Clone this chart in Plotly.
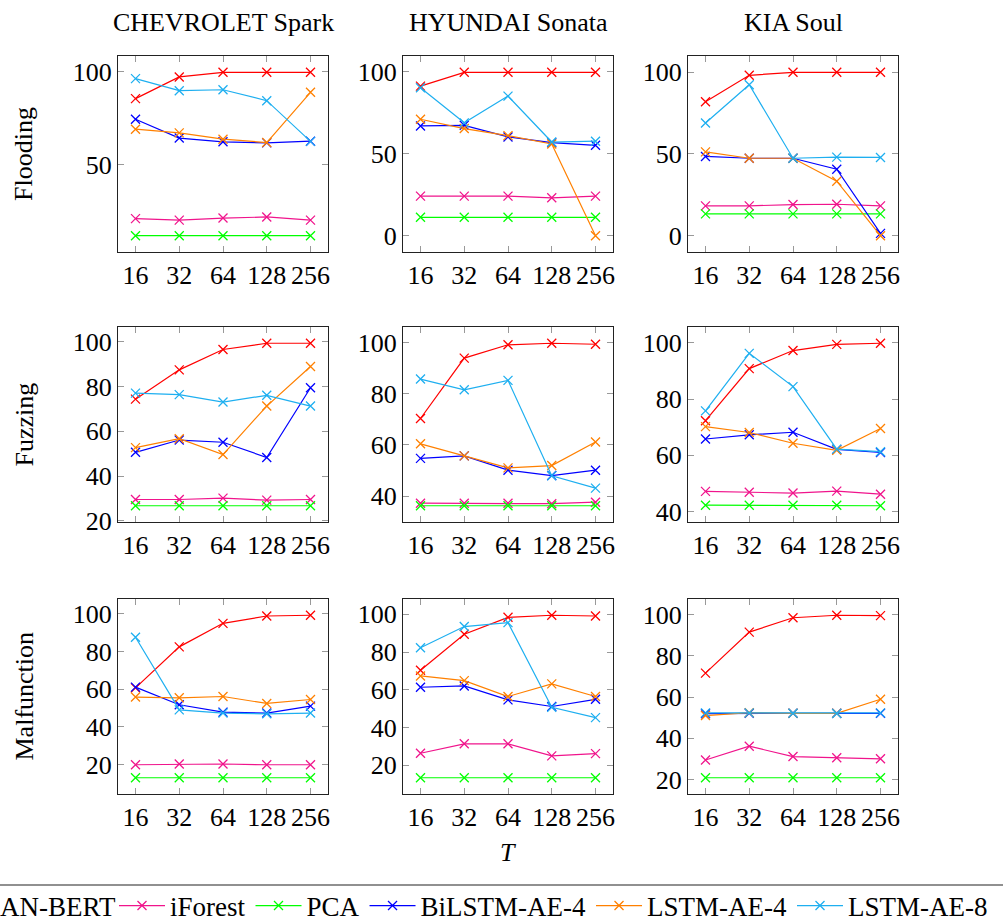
import math
import plotly.graph_objects as go

# ---------------- data ----------------
T = [16, 32, 64, 128, 256]
T_labels = ["16", "32", "64", "128", "256"]
vehicles = ["CHEVROLET Spark", "HYUNDAI Sonata", "KIA Soul"]
attacks = ["Flooding", "Fuzzing", "Malfunction"]
models = ["CAN-BERT", "iForest", "PCA", "BiLSTM-AE-4", "LSTM-AE-4", "LSTM-AE-8"]
colors = ["#FF0000", "#F0148C", "#00FF00", "#0000FF", "#FF8000", "#1EAFF0"]

chevrolet_flooding = {
    "CAN-BERT": [85.6, 97.3, 99.8, 99.8, 99.8],
    "iForest": [20.8, 20.0, 21.1, 21.7, 20.0],
    "PCA": [11.6, 11.6, 11.6, 11.6, 11.6],
    "BiLSTM-AE-4": [74.5, 64.3, 62.3, 61.7, 62.6],
    "LSTM-AE-4": [69.1, 67.1, 63.7, 61.9, 89.0],
    "LSTM-AE-8": [96.4, 89.9, 90.4, 84.5, 62.5],
}
hyundai_flooding = {
    "CAN-BERT": [91.2, 99.6, 99.6, 99.6, 99.6],
    "iForest": [24.1, 24.1, 24.1, 23.1, 24.1],
    "PCA": [11.2, 11.2, 11.2, 11.2, 11.2],
    "BiLSTM-AE-4": [66.9, 67.3, 60.2, 56.7, 55.1],
    "LSTM-AE-4": [71.0, 65.3, 61.0, 55.9, 0.0],
    "LSTM-AE-8": [90.2, 68.8, 85.1, 57.1, 57.6],
}
kia_flooding = {
    "CAN-BERT": [81.8, 98.0, 99.8, 99.8, 99.8],
    "iForest": [18.2, 18.2, 19.0, 19.2, 18.2],
    "PCA": [13.3, 13.3, 13.3, 13.3, 13.3],
    "BiLSTM-AE-4": [48.4, 47.3, 47.3, 40.6, 1.4],
    "LSTM-AE-4": [51.2, 47.3, 47.3, 33.3, 0.0],
    "LSTM-AE-8": [68.8, 92.2, 47.3, 48.0, 47.8],
}
chevrolet_fuzzing = {
    "CAN-BERT": [74.4, 87.5, 96.6, 99.4, 99.4],
    "iForest": [29.5, 29.5, 30.1, 29.2, 29.5],
    "PCA": [26.7, 26.7, 26.7, 26.7, 26.7],
    "BiLSTM-AE-4": [50.6, 56.1, 55.1, 48.3, 79.5],
    "LSTM-AE-4": [52.7, 56.7, 49.6, 71.3, 89.0],
    "LSTM-AE-8": [77.1, 76.4, 73.1, 76.1, 71.3],
}
hyundai_fuzzing = {
    "CAN-BERT": [70.3, 93.9, 99.1, 99.7, 99.3],
    "iForest": [37.2, 37.2, 37.2, 37.0, 37.6],
    "PCA": [36.2, 36.2, 36.2, 36.2, 36.2],
    "BiLSTM-AE-4": [54.7, 55.7, 50.1, 48.0, 50.1],
    "LSTM-AE-4": [60.4, 55.7, 51.0, 51.9, 61.1],
    "LSTM-AE-8": [85.7, 81.5, 85.2, 47.9, 43.1],
}
kia_fuzzing = {
    "CAN-BERT": [72.3, 90.8, 97.2, 99.4, 99.8],
    "iForest": [47.2, 46.9, 46.6, 47.3, 46.2],
    "PCA": [42.3, 42.3, 42.3, 42.3, 42.1],
    "BiLSTM-AE-4": [65.8, 67.3, 68.2, 62.1, 61.0],
    "LSTM-AE-4": [70.2, 68.1, 64.3, 61.8, 69.5],
    "LSTM-AE-8": [75.8, 96.2, 84.4, 62.2, 61.3],
}
chevrolet_malfunction = {
    "CAN-BERT": [60.7, 82.5, 95.0, 98.9, 99.3],
    "iForest": [19.8, 20.2, 20.2, 19.8, 19.8],
    "PCA": [12.9, 12.9, 12.9, 12.9, 12.9],
    "BiLSTM-AE-4": [61.1, 51.7, 47.8, 47.3, 51.0],
    "LSTM-AE-4": [55.8, 55.4, 56.1, 52.4, 54.5],
    "LSTM-AE-8": [87.6, 49.0, 47.3, 46.9, 47.3],
}
hyundai_malfunction = {
    "CAN-BERT": [70.3, 89.4, 98.4, 99.5, 99.1],
    "iForest": [26.3, 31.3, 31.3, 24.9, 26.1],
    "PCA": [13.3, 13.3, 13.3, 13.3, 13.3],
    "BiLSTM-AE-4": [61.3, 62.0, 54.6, 51.1, 54.9],
    "LSTM-AE-4": [67.3, 64.8, 56.4, 63.1, 56.4],
    "LSTM-AE-8": [82.3, 93.5, 95.6, 50.7, 45.2],
}
kia_malfunction = {
    "CAN-BERT": [71.6, 91.5, 98.5, 99.7, 99.5],
    "iForest": [29.4, 36.1, 31.1, 30.5, 30.0],
    "PCA": [20.8, 20.8, 20.8, 20.8, 20.8],
    "BiLSTM-AE-4": [51.9, 52.1, 52.1, 52.1, 52.1],
    "LSTM-AE-4": [51.0, 52.4, 52.1, 52.1, 58.9],
    "LSTM-AE-8": [52.3, 52.3, 52.1, 52.0, 52.3],
}

panels = [
    [chevrolet_flooding, hyundai_flooding, kia_flooding],
    [chevrolet_fuzzing, hyundai_fuzzing, kia_fuzzing],
    [chevrolet_malfunction, hyundai_malfunction, kia_malfunction],
]
row_dtick = [50, 20, 20]

# ---------------- layout geometry ----------------
W, H = 1003, 923
col_px = [(118, 328), (403, 613), (688, 898)]
row_px = [(56, 252), (327, 522), (599, 794)]
FONT = "Liberation Serif, Times New Roman, DejaVu Serif, serif"
FS = 26
LEG_FS = 27

lx = [math.log10(v) for v in T]
step = lx[1] - lx[0]
xrange_log = [lx[0] - 0.4 * step, lx[-1] + 0.4 * step]

fig = go.Figure()
layout = dict(
    width=W, height=H,
    margin=dict(l=0, r=0, t=0, b=0, autoexpand=False),
    paper_bgcolor="white", plot_bgcolor="white",
    font=dict(family=FONT, size=FS, color="black"),
    showlegend=True,
)

axis_common = dict(
    showgrid=False, zeroline=False, showline=True, linecolor="#222222", linewidth=1.2,
    mirror="ticks", ticks="inside", ticklen=6, tickwidth=1.2, tickcolor="#999999",
    tickfont=dict(family=FONT, size=FS, color="black"),
)

k = 0
for r in range(3):
    for c in range(3):
        k += 1
        xa = "x" if k == 1 else f"x{k}"
        ya = "y" if k == 1 else f"y{k}"
        data = panels[r][c]
        allv = [v for m in models for v in data[m]]
        lo, hi = min(allv), max(allv)
        pad = 0.1 * (hi - lo)
        x0, x1 = col_px[c]
        yt, yb = row_px[r]
        layout["xaxis" if k == 1 else f"xaxis{k}"] = dict(
            axis_common, type="log", domain=[x0 / W, x1 / W], range=xrange_log,
            tickvals=T, ticktext=T_labels, anchor=ya,
        )
        layout["yaxis" if k == 1 else f"yaxis{k}"] = dict(
            axis_common, domain=[1 - yb / H, 1 - yt / H], range=[lo - pad, hi + pad],
            tick0=0, dtick=row_dtick[r], anchor=xa,
        )
        for m, col in zip(models, colors):
            show = (k == 1)
            fig.add_trace(go.Scatter(
                x=T, y=data[m], mode="lines+markers", name=m,
                line=dict(color=col, width=1.2),
                marker=dict(symbol="x-thin", size=9, line=dict(color=col, width=1.3)),
                xaxis=xa, yaxis=ya, showlegend=show,
                legend="legend2" if m == "CAN-BERT" else "legend",
            ))

leg_common = dict(
    orientation="h", bgcolor="rgba(0,0,0,0)", borderwidth=0,
    font=dict(family=FONT, size=LEG_FS, color="black"), itemwidth=46,
    yanchor="middle", y=1 - 906 / H, tracegroupgap=0,
)
layout["legend"] = dict(leg_common, x=114 / W, xanchor="left")
layout["legend2"] = dict(leg_common, x=121 / W, xanchor="right")

annotations = []
for c, name in enumerate(vehicles):
    x0, x1 = col_px[c]
    annotations.append(dict(text=name, x=(x0 + x1) / 2 / W, y=1 - 22 / H, xref="paper", yref="paper",
                            showarrow=False, xanchor="center", yanchor="middle",
                            font=dict(family=FONT, size=FS)))
for r, name in enumerate(attacks):
    yt, yb = row_px[r]
    annotations.append(dict(text=name, x=24 / W, y=1 - (yt + yb) / 2 / H, xref="paper", yref="paper",
                            showarrow=False, textangle=-90, xanchor="center", yanchor="middle",
                            font=dict(family=FONT, size=FS)))
annotations.append(dict(text="<i>T</i>", x=508 / W, y=1 - 852 / H, xref="paper", yref="paper",
                        showarrow=False, xanchor="center", yanchor="middle",
                        font=dict(family=FONT, size=FS)))
layout["annotations"] = annotations
layout["shapes"] = [dict(type="line", xref="paper", yref="paper", x0=0, x1=1,
                         y0=1 - 885 / H, y1=1 - 885 / H, line=dict(color="#222222", width=1.2))]

fig.update_layout(**layout)
fig.write_html("out.html")
